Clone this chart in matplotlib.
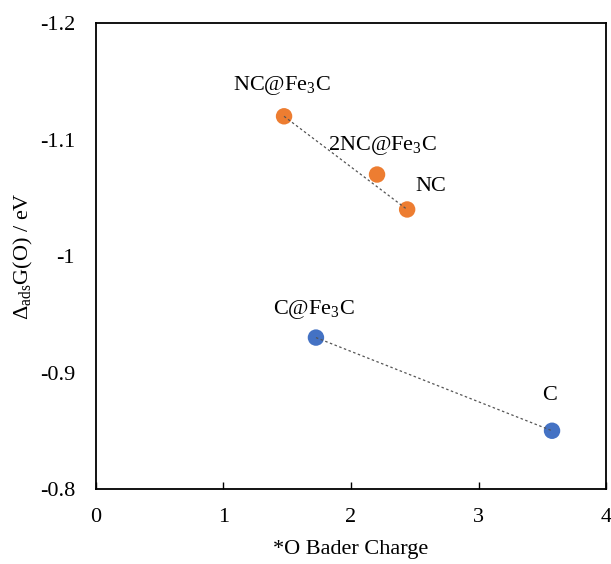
import numpy as np
import matplotlib.pyplot as plt

plt.rcParams['font.family'] = ['Liberation Serif', 'DejaVu Serif']
plt.rcParams['mathtext.fontset'] = 'custom'
plt.rcParams['mathtext.rm'] = 'Liberation Serif'
plt.rcParams['mathtext.it'] = 'Liberation Serif'

# N-doped carbon series
nc_names = [r'NC@Fe$_\mathrm{3}$C', r'2NC@Fe$_\mathrm{3}$C', 'NC']
nc_charge = [1.475, 2.204, 2.44]
nc_dg = [-1.12, -1.07, -1.04]

# plain carbon series
c_names = [r'C@Fe$_\mathrm{3}$C', 'C']
c_charge = [1.725, 3.576]
c_dg = [-0.93, -0.85]

# label offsets in pixels from each marker
nc_off = [(-2, 31), (5, 29), (24, 23)]
c_off = [(-2, 28), (-2, 35)]

fig = plt.figure(figsize=(6.11, 5.64), dpi=100)
ax = fig.add_axes([0.157, 0.133, 0.835, 0.826])

ax.plot([nc_charge[0], nc_charge[-1]], [nc_dg[0], nc_dg[-1]], ls=(0, (2, 2)),
        color='#555555', lw=0.9, zorder=3)
ax.plot(c_charge, c_dg, ls=(0, (2, 2)), color='#555555', lw=0.9, zorder=3)

ax.scatter(nc_charge, nc_dg, s=140, color='#ED7D31', zorder=2, edgecolors='none')
ax.scatter(c_charge, c_dg, s=140, color='#4472C4', zorder=2, edgecolors='none')

for name, x, y, off in zip(nc_names, nc_charge, nc_dg, nc_off):
    ax.annotate(name, (x, y), xytext=off, textcoords='offset pixels',
                ha='center', va='center', fontsize=16)
for name, x, y, off in zip(c_names, c_charge, c_dg, c_off):
    ax.annotate(name, (x, y), xytext=off, textcoords='offset pixels',
                ha='center', va='center', fontsize=16)

ax.set_xlim(0, 4)
ax.set_ylim(-0.8, -1.2)
ax.set_xticks([0, 1, 2, 3, 4])
ax.set_yticks([-1.2, -1.1, -1.0, -0.9, -0.8])
ax.set_yticklabels(['-1.2', '-1.1', '-1', '-0.9', '-0.8'])
ax.tick_params(axis='x', direction='in', length=5, width=1, labelsize=16, pad=14)
ax.tick_params(axis='y', length=0, labelsize=16, pad=15)
for sp in ax.spines.values():
    sp.set_linewidth(1.3)

ax.set_xlabel('*O Bader Charge', fontsize=16, labelpad=9)
ax.set_ylabel(r'$\Delta_\mathrm{ads}$G(O) / eV', fontsize=16)
ax.yaxis.set_label_coords(-0.12, 0.5)

fig.savefig('out.png', dpi=100)
